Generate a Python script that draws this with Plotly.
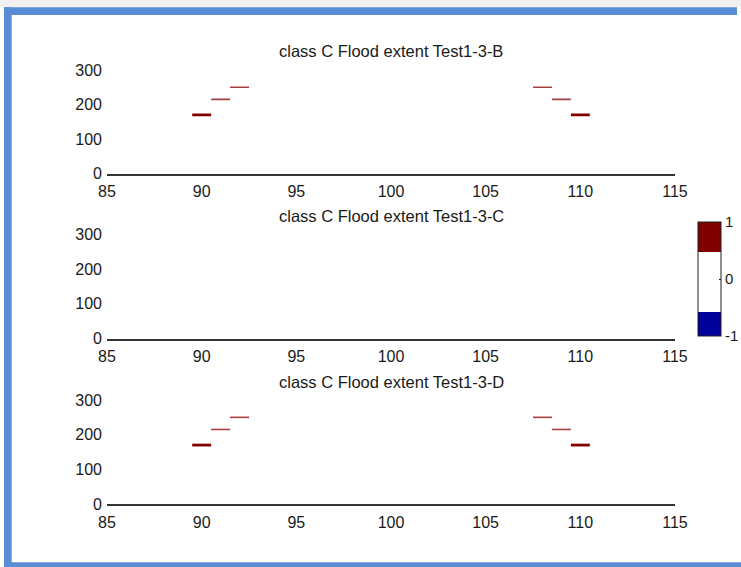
import plotly.graph_objects as go

# Flood extent cells (x position) and their levels for each test case
cell_x = [90, 91, 92, 108, 109, 110]
extent_B = [170, 215, 250, 250, 215, 170]
extent_C = [None, None, None, None, None, None]
extent_D = [170, 215, 250, 250, 215, 170]

panel_titles = [
    "class C Flood extent Test1-3-B",
    "class C Flood extent Test1-3-C",
    "class C Flood extent Test1-3-D",
]
x_ticks = [85, 90, 95, 100, 105, 110, 115]
y_ticks = [0, 100, 200, 300]
cbar_ticks = [-1, 0, 1]

W, H = 741, 567
FONT = "Liberation Sans, Arial, sans-serif"
TXT = "#1a1a1a"
DARK_RED = "#800000"
DARK_BLUE = "#00009c"
FRAME = "#5b8dd6"
CELL = 1.0


def px_x(p):
    return p / W


def px_y(p):
    return 1 - p / H


# plot area in pixels: (top, bottom) for each panel
panels = [(70, 173.5), (234.5, 338.5), (400, 504)]
x_dom = [px_x(107), px_x(675)]

fig = go.Figure()

for i, vals in enumerate([extent_B, extent_C, extent_D]):
    suffix = "" if i == 0 else str(i + 1)
    present = [(x, v) for x, v in zip(cell_x, vals) if v is not None]
    if present:
        xs_all = [x for x, _ in present]
        lo, hi = min(xs_all), max(xs_all)
        heavy_x, heavy_y, light_x, light_y = [], [], [], []
        for x, v in present:
            seg_x = [x - CELL / 2, x + CELL / 2, None]
            seg_y = [v, v, None]
            if x in (lo, hi):
                heavy_x += seg_x
                heavy_y += seg_y
            else:
                light_x += seg_x
                light_y += seg_y
        fig.add_trace(go.Scatter(
            x=light_x, y=light_y, mode="lines",
            line=dict(color="rgba(150,30,30,0.85)", width=1.6),
            xaxis="x" + suffix, yaxis="y" + suffix, showlegend=False,
            hoverinfo="skip"))
        fig.add_trace(go.Scatter(
            x=heavy_x, y=heavy_y, mode="lines",
            line=dict(color=DARK_RED, width=2.8),
            xaxis="x" + suffix, yaxis="y" + suffix, showlegend=False,
            hoverinfo="skip"))
    else:
        fig.add_trace(go.Scatter(
            x=[None], y=[None], mode="lines",
            xaxis="x" + suffix, yaxis="y" + suffix, showlegend=False))

# colour scale legend
cscale = [
    [0.0, DARK_BLUE], [0.213, DARK_BLUE],
    [0.213, "#ffffff"], [0.737, "#ffffff"],
    [0.737, DARK_RED], [1.0, DARK_RED],
]
fig.add_trace(go.Scatter(
    x=[None], y=[None], mode="markers", showlegend=False, hoverinfo="skip",
    marker=dict(
        color=[0], colorscale=cscale, cmin=-1, cmax=1, showscale=True,
        colorbar=dict(
            x=px_x(697.7), xanchor="left", y=px_y(279), yanchor="middle",
            thickness=23, thicknessmode="pixels",
            len=114, lenmode="pixels",
            outlinecolor="#202020", outlinewidth=1,
            tickvals=cbar_ticks, ticktext=[str(t) for t in cbar_ticks],
            ticks="inside", ticklen=2, tickcolor="#202020",
            tickfont=dict(family=FONT, size=15, color=TXT),
            xpad=0, ypad=0, borderwidth=0,
        ),
    ),
))

layout = dict(
    width=W, height=H,
    margin=dict(l=0, r=0, t=0, b=0),
    paper_bgcolor="white", plot_bgcolor="white",
    font=dict(family=FONT, size=16, color=TXT),
    showlegend=False,
)

annotations = []
for i, (top, bot) in enumerate(panels):
    suffix = "" if i == 0 else str(i + 1)
    layout["xaxis" + suffix] = dict(
        domain=x_dom, range=[85, 115], tickvals=x_ticks,
        showline=True, linecolor="#333333", linewidth=1.5,
        showgrid=False, zeroline=False, ticks="", automargin=False,
        anchor="y" + suffix, tickfont=dict(size=16), ticklabelstandoff=3,
    )
    layout["yaxis" + suffix] = dict(
        domain=[px_y(bot), px_y(top)], range=[0, 300], tickvals=y_ticks,
        showline=False, showgrid=False, zeroline=False, ticks="",
        automargin=False, anchor="x" + suffix, tickfont=dict(size=16),
        ticklabelstandoff=4,
    )
    annotations.append(dict(
        text=panel_titles[i], xref="paper", yref="paper",
        x=(x_dom[0] + x_dom[1]) / 2, y=px_y(bot - 122.5),
        xanchor="center", yanchor="middle", showarrow=False,
        font=dict(family=FONT, size=16.5, color=TXT),
    ))

layout["annotations"] = annotations

# window frame around the figure
shapes = [
    dict(type="rect", xref="paper", yref="paper", x0=0, x1=1,
         y0=px_y(7.3), y1=1, fillcolor="#f1f1f1", line=dict(width=0),
         layer="below"),
    dict(type="rect", xref="paper", yref="paper", x0=px_x(4), x1=px_x(737),
         y0=px_y(15), y1=px_y(7.3), fillcolor=FRAME, line=dict(width=0)),
    dict(type="rect", xref="paper", yref="paper", x0=px_x(4), x1=px_x(11.7),
         y0=0, y1=px_y(7.3), fillcolor=FRAME, line=dict(width=0)),
    dict(type="rect", xref="paper", yref="paper", x0=px_x(4), x1=1,
         y0=0, y1=px_y(562.3), fillcolor=FRAME, line=dict(width=0)),
]
layout["shapes"] = shapes

fig.update_layout(**layout)
fig.write_html("out.html")
